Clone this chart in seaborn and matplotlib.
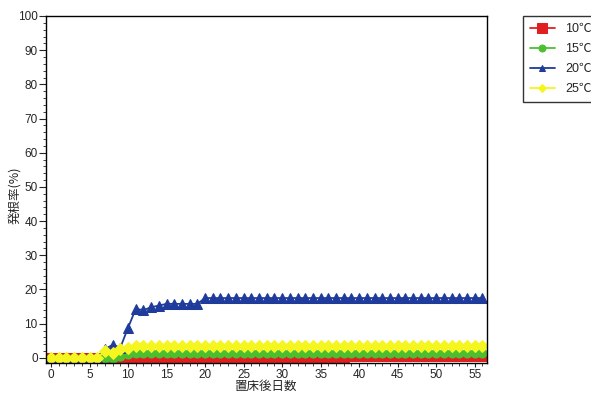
import numpy as np
import pandas as pd
import matplotlib
matplotlib.use('Agg')
import matplotlib.pyplot as plt
import seaborn as sns

# 置床後日数 (0..56日)
days = list(range(0, 57))

# 発根率(%)
r10 = [0] * 26 + [0.3] * 13 + [0.6] * 18
r15 = [0] * 9 + [0.5, 1] + [1.5] * 46
r20 = [0] * 7 + [2.6, 3.8, 3, 8.8, 14.3, 14, 14.8, 15.3] + [15.8] * 5 + [17.5] * 37
r25 = [0] * 7 + [2, 1.5, 2.5, 3, 3.5] + [3.6] * 45

labels = ['10℃', '15℃', '20℃', '25℃']
colors = ['#e02020', '#4cbf30', '#1f3c9c', '#f5f520']
markers = ['s', 'o', '^', 'D']
msizes = [6.5, 6.5, 7.5, 6.5]

df = pd.DataFrame({'day': days, '10℃': r10, '15℃': r15, '20℃': r20, '25℃': r25})
long = df.melt(id_vars='day', var_name='temp', value_name='rate')

sns.set_style('ticks')
plt.rcParams['font.family'] = ['Liberation Sans', 'Noto Sans CJK JP', 'DejaVu Sans']

fig = plt.figure(figsize=(5.91, 4.03), dpi=100)
ax = fig.add_axes([46 / 591, 40 / 403, 441 / 591, 347 / 403])

for lab, c, m, ms in zip(labels, colors, markers, msizes):
    sub = long[long['temp'] == lab]
    sns.lineplot(data=sub, x='day', y='rate', ax=ax, color=c, marker=m,
                 markersize=ms, markeredgecolor=c, linewidth=1.3, label=lab)

ax.set_xlim(-0.65, 56.6)
ax.set_ylim(-1.5, 100)
ax.set_xticks(range(0, 56, 5))
ax.set_xticks(range(0, 57), minor=True)
ax.set_yticks(range(0, 101, 10))
ax.set_yticks(range(0, 101, 2), minor=True)
ax.tick_params(axis='x', which='major', length=3, pad=1, labelsize=8.5, direction='out')
ax.tick_params(axis='y', which='major', length=5, pad=1, labelsize=8.5, direction='out')
ax.tick_params(axis='both', which='minor', length=2.5, direction='out')
for s in ax.spines.values():
    s.set_linewidth(1)
    s.set_color('black')

ax.set_xlabel('置床後日数', fontsize=9, family=['Noto Sans CJK JP'])
ax.set_ylabel('発根率(%)', fontsize=9, family=['Noto Sans CJK JP'])
ax.xaxis.set_label_coords((265 - 46) / 441, -(380 - 363) / 347)
ax.yaxis.set_label_coords(-(46 - 21) / 441, (363 - 195) / 347)

h, l = ax.get_legend_handles_labels()
ax.get_legend().remove()
leg = fig.legend(h, l, loc='upper left', bbox_to_anchor=(523 / 591, 1 - 16 / 403),
                 frameon=True, fancybox=False, edgecolor='black', fontsize=9,
                 handlelength=2.0, labelspacing=0.65, borderpad=0.55,
                 handletextpad=0.8, borderaxespad=0)
for lh, s in zip(leg.legend_handles, [7, 5, 5, 4]):
    lh.set_markersize(s)
leg.get_frame().set_linewidth(1)

fig.savefig('out.png', dpi=100)
